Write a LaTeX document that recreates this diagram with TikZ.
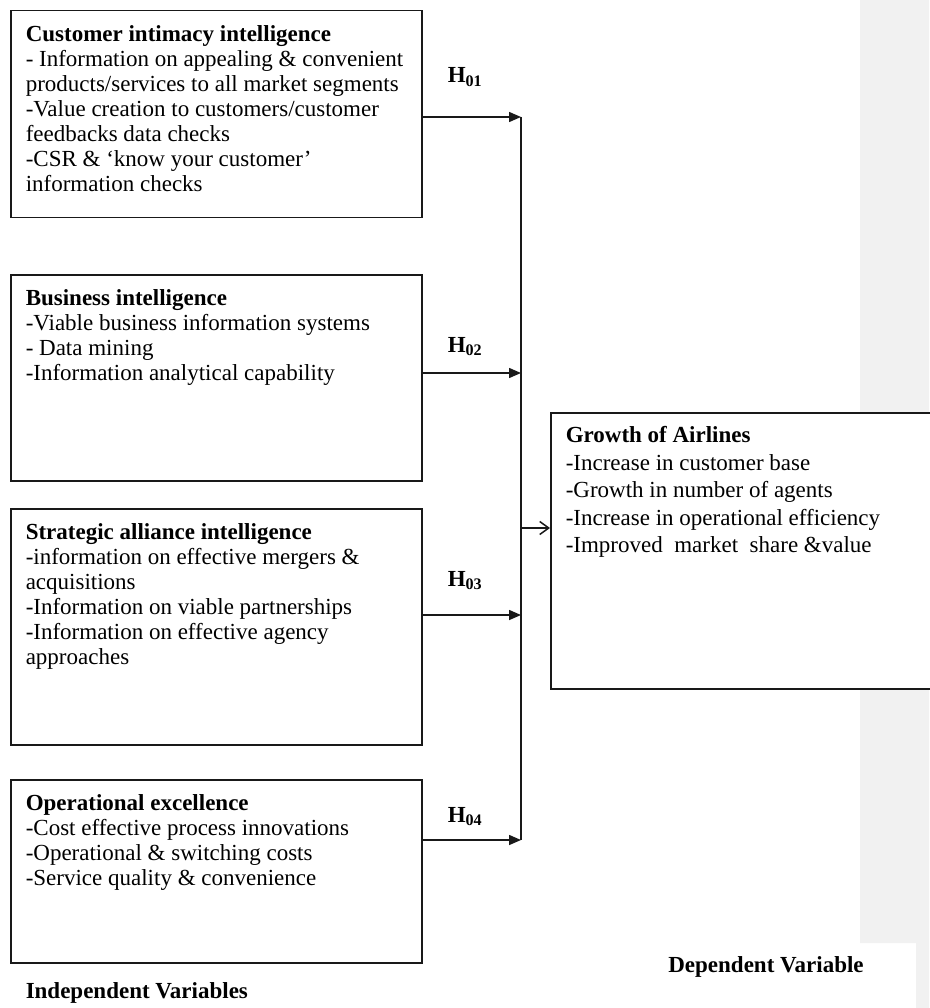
\documentclass[tikz,border=0pt]{standalone}
\usepackage{fontspec}
\setmainfont{Liberation Serif}
\usepackage{tikz}
\usetikzlibrary{arrows.meta,positioning}
\definecolor{panel_gray}{RGB}{241,241,241}
\definecolor{line_black}{RGB}{25,25,25}

\begin{document}
\begin{tikzpicture}[x=1pt,y=-1pt,line width=1.5pt]
    \tikzstyle{box}=[draw=line_black, rectangle, fill=white, inner sep=0pt, anchor=north west]
    \tikzstyle{txt}=[align=left, inner sep=0pt, font=\fontsize{23}{25}\selectfont]
    \tikzstyle{hyp}=[draw=line_black, -{Triangle[length=12pt,width=10pt]}]
    \tikzstyle{res}=[draw=line_black, -{Straight Barb[length=9pt,width=13pt]}]
    \tikzstyle{hlab}=[anchor=base west, inner sep=0pt, font=\fontsize{23}{25}\selectfont\bfseries]

    \useasboundingbox (0,0) rectangle (929,1008);
    \fill[panel_gray] (860,0) -- (929,0) -- (929,1008) -- (916,1008) -- (916,943) -- (860,943) -- cycle;

    % independent variables
    \node[box, minimum width=411pt, minimum height=207pt] (cust)  at (10,10)  {};
    \node[box, minimum width=411pt, minimum height=206pt] (bus)   at (10,274) {};
    \node[box, minimum width=411pt, minimum height=236pt] (strat) at (10,508) {};
    \node[box, minimum width=411pt, minimum height=183pt] (oper)  at (10,779) {};
    % dependent variable
    \node[box, minimum width=385pt, minimum height=276pt] (growth) at (550,412) {};

    \node[txt, below right=15pt and 15pt of cust.north west] (cust_t) {\textbf{Customer intimacy intelligence}\\
      - Information on appealing \& convenient\\
      products/services to all market segments\\
      -Value creation to customers/customer\\
      feedbacks data checks\\
      -CSR \& ‘know your customer’\\
      information checks};
    \node[txt, below right=15pt and 15pt of bus.north west] (bus_t) {\textbf{Business intelligence}\\
      -Viable business information systems\\
      - Data mining\\
      -Information analytical capability};
    \node[txt, below right=15pt and 15pt of strat.north west] (strat_t) {\textbf{Strategic alliance intelligence}\\
      -information on effective mergers \&\\
      acquisitions\\
      -Information on viable partnerships\\
      -Information on effective agency\\
      approaches};
    \node[txt, below right=15pt and 15pt of oper.north west] (oper_t) {\textbf{Operational excellence}\\
      -Cost effective process innovations\\
      -Operational \& switching costs\\
      -Service quality \& convenience};
    \node[txt, font=\fontsize{23}{27.5}\selectfont, below right=14pt and 15pt of growth.north west] (growth_t) {\textbf{Growth of Airlines}\\
      -Increase in customer base\\
      -Growth in number of agents\\
      -Increase in operational efficiency\\
      -Improved\ \ market\ \ share \&value};

    \coordinate (j1) at (521,117);
    \coordinate (j2) at (521,373);
    \coordinate (j3) at (521,615);
    \coordinate (j4) at (521,840);
    \coordinate (jg) at (521,528);

    \draw[hyp] (cust.east |- j1) -- (j1);
    \draw[hyp] (bus.east |- j2) -- (j2);
    \draw[hyp] (strat.east |- j3) -- (j3);
    \draw[hyp] (oper.east |- j4) -- (j4);
    \draw[line_black] (j1) -- (j4);
    \draw[res] (jg) -- (growth.west |- jg);

    \node[hlab] (h01) at (447,83)  {H\textsubscript{01}};
    \node[hlab] (h02) at (447,352) {H\textsubscript{02}};
    \node[hlab] (h03) at (447,586) {H\textsubscript{03}};
    \node[hlab] (h04) at (447,822) {H\textsubscript{04}};

    \node[hlab] (indep) at (25,998) {Independent Variables};
    \node[txt, font=\fontsize{23}{25}\selectfont\bfseries] (dep) at (766,967) {Dependent Variable};
\end{tikzpicture}
\end{document}
